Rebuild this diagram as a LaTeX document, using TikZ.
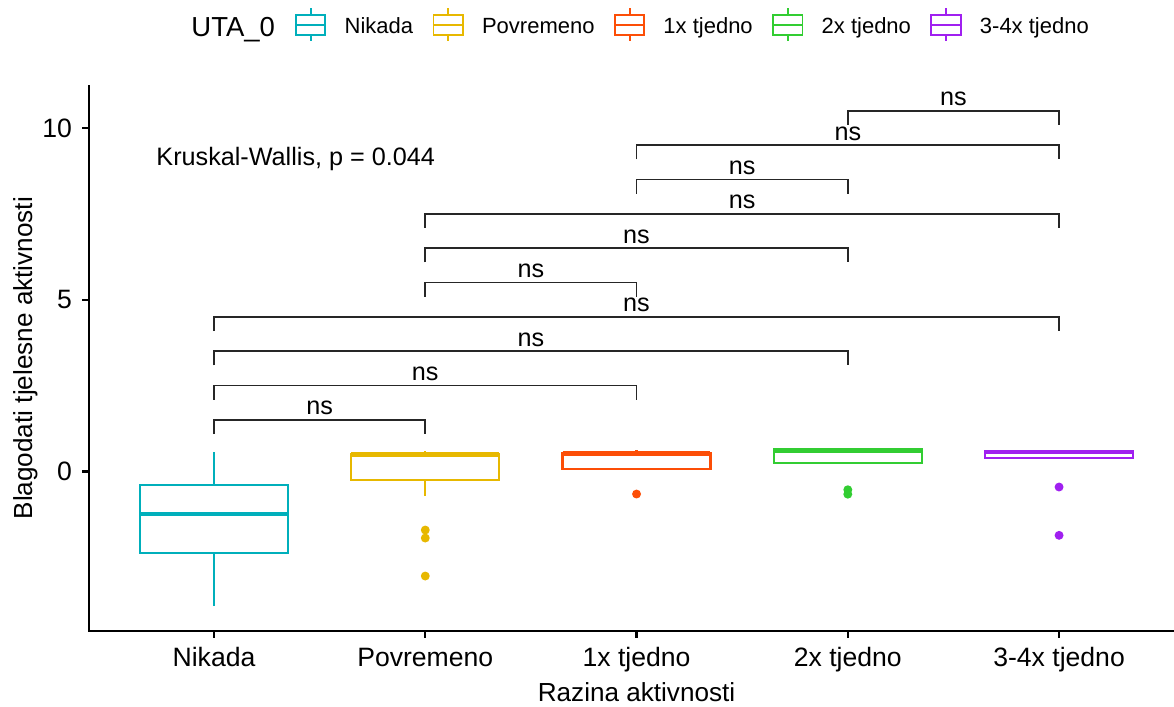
\documentclass[tikz,border=0pt]{standalone}
\usepackage{fontspec}
\setmainfont{Liberation Sans}
\usetikzlibrary{positioning}

\definecolor{nikada}{HTML}{00AFBB}
\definecolor{povremeno}{HTML}{E7B800}
\definecolor{jedan}{HTML}{FC4E07}
\definecolor{dva}{HTML}{32CD32}
\definecolor{triceti}{HTML}{A020F0}

\tikzset{
  axisline/.style={line width=1pt, black},
  boxline/.style={line width=1pt},
  medline/.style={line width=2.1pt},
  bracket/.style={line width=0.7pt, black!85},
  keybox/.style={draw, line width=0.8pt, minimum width=12.8pt, minimum height=9pt, inner sep=0pt},
  legtext/.style={inner sep=0pt, font=\fontsize{9.6}{11}\selectfont, text height=9pt, text depth=1.8pt},
  legtitle/.style={inner sep=0pt, font=\fontsize{12}{14}\selectfont, text height=12.2pt, text depth=2pt},
  ticklab/.style={inner sep=0pt, font=\fontsize{11.6}{13}\selectfont},
  axtitle/.style={inner sep=0pt, font=\fontsize{11.4}{13}\selectfont},
  statlab/.style={inner sep=0pt, font=\fontsize{11}{13}\selectfont},
}

\begin{document}
\begin{tikzpicture}[x=92.21pt, y=14.994pt]
\useasboundingbox (-0.013,-6.827) rectangle (5.544,13.726);

% axes
\draw[axisline] (0.407,11.25) -- (0.407,-4.643) -- (5.544,-4.643);
\foreach \v in {0,5,10}
  \draw[axisline] (0.407,\v) -- ++(-3pt,0) node[ticklab, anchor=east, xshift=-3.8pt] (yl\v) {\v};
\foreach \lab [count=\i] in {Nikada,Povremeno,1x tjedno,2x tjedno,3-4x tjedno}
{
  \draw[axisline] (\i,-4.643) -- ++(0,-3pt);
  \node[ticklab, anchor=base] (xl\i) at (\i,-5.69) {\lab};
}
\node[axtitle, anchor=base] (xtitle) at (3.0,-6.68) {Razina aktivnosti};
\node[axtitle, anchor=base, rotate=90] (ytitle) at (0.143,3.30) {Blagodati tjelesne aktivnosti};

% boxes: x / low whisker / Q1 / median / Q3 / high whisker / colour
\foreach \i/\lw/\qa/\md/\qc/\uw/\col in {
  1/-3.916/-2.373/-1.237/-0.393/0.568/nikada,
  2/-0.713/-0.247/0.50/0.51/0.597/povremeno,
  3/0.08/0.08/0.524/0.547/0.617/jedan,
  4/0.239/0.239/0.62/0.646/0.646/dva,
  5/0.384/0.384/0.568/0.597/0.597/triceti}
{
  \draw[boxline, \col] (\i,\lw) -- (\i,\qa) (\i,\qc) -- (\i,\uw);
  \draw[boxline, \col] (\i-0.35,\qa) rectangle (\i+0.35,\qc);
  \draw[medline, \col] (\i-0.35,\md) -- (\i+0.35,\md);
}
\foreach \i/\v/\col in {2/-1.703/povremeno, 2/-1.936/povremeno, 2/-3.042/povremeno,
  3/-0.655/jedan, 4/-0.53/dva, 4/-0.66/dva, 5/-0.451/triceti, 5/-1.857/triceti}
  \fill[\col] (\i,\v) circle (1.95pt);

% pairwise comparisons
\foreach \a/\b [count=\k] in {1/2,1/3,1/4,1/5,2/3,2/4,2/5,3/4,3/5,4/5}
{
  \draw[bracket] (\a,\k+0.09) -- (\a,\k+0.5) -- (\b,\k+0.5) -- (\b,\k+0.09);
  \node[statlab, anchor=base] (ns\k) at ({(\a+\b)/2},\k+0.646) {ns};
}
\node[statlab, anchor=base west] (kw) at (0.7254,8.92) {Kruskal-Wallis, p = 0.044};

% legend
\node[legtitle, anchor=west] (uta) at (0.891,13.0) {UTA\_0};
\node[keybox, draw=nikada, right=8.6pt of uta] (k1) {};
\node[legtext, right=7.8pt of k1] (l1) {Nikada};
\node[keybox, draw=povremeno, right=8.3pt of l1] (k2) {};
\node[legtext, right=7.8pt of k2] (l2) {Povremeno};
\node[keybox, draw=jedan, right=8.3pt of l2] (k3) {};
\node[legtext, right=7.8pt of k3] (l3) {1x tjedno};
\node[keybox, draw=dva, right=8.3pt of l3] (k4) {};
\node[legtext, right=7.8pt of k4] (l4) {2x tjedno};
\node[keybox, draw=triceti, right=8.3pt of l4] (k5) {};
\node[legtext, right=7.8pt of k5] (l5) {3-4x tjedno};
\foreach \i/\col in {1/nikada,2/povremeno,3/jedan,4/dva,5/triceti}
  \draw[line width=0.8pt, \col] (k\i.north) -- ++(0,2.3pt) (k\i.south) -- ++(0,-2.3pt)
    (k\i.west) -- (k\i.east);
\end{tikzpicture}
\end{document}
